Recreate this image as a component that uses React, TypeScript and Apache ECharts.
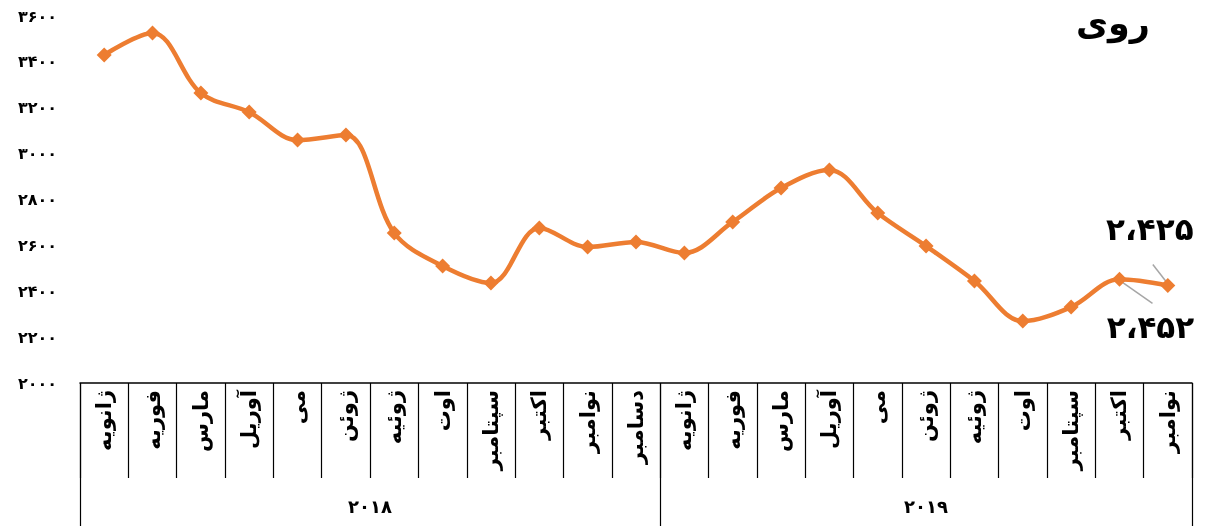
import React, { useEffect, useRef } from "react";
import * as echarts from "echarts";

const months2018 = ["ژانویه", "فوریه", "مارس", "آوریل", "می", "ژوئن", "ژوئیه", "اوت", "سپتامبر", "اکتبر", "نوامبر", "دسامبر"];
const months2019 = ["ژانویه", "فوریه", "مارس", "آوریل", "می", "ژوئن", "ژوئیه", "اوت", "سپتامبر", "اکتبر", "نوامبر"];
const years = [2018, 2019];
const values2018 = [3430, 3526, 3264, 3181, 3059, 3081, 2654, 2510, 2436, 2676, 2593, 2615];
const values2019 = [2567, 2702, 2850, 2929, 2741, 2597, 2445, 2270, 2331, 2452, 2425];
const yTicks = [2000, 2200, 2400, 2600, 2800, 3000, 3200, 3400, 3600];
const title = "روی";

const FA = "۰۱۲۳۴۵۶۷۸۹";
const toFa = (s: string) => s.replace(/\d/g, (d) => FA[Number(d)]);
const faNum = (n: number) => toFa(String(n));
const faThousands = (n: number) => toFa(String(n).replace(/\B(?=(\d{3})+(?!\d))/g, "،"));

const FONT = "DejaVu Sans";
const GUIDE = { stroke: "#A6A6A6", lineWidth: 1.5 };

export default function App() {
  const ref = useRef<HTMLDivElement>(null);
  useEffect(() => {
    if (!ref.current) return;
    const chart = echarts.init(ref.current, undefined, { renderer: "svg" });
    const categories = [...months2018, ...months2019];
    const values = [...values2018, ...values2019];
    const spans = [months2018.length, months2019.length];
    const bounds: number[] = [0];
    spans.forEach((s) => bounds.push(bounds[bounds.length - 1] + s));
    const mids = spans.map((s, i) => bounds[i] + s / 2);
    const n = values.length;

    const data = values.map((v, i) => {
      if (i === n - 2) {
        return { value: v, label: { show: true, position: "bottom", offset: [31, 20] } };
      }
      if (i === n - 1) {
        return { value: v, label: { show: true, position: "top", offset: [-18, -29] } };
      }
      return v;
    });

    chart.setOption({
      animation: false,
      title: {
        text: title,
        right: 57,
        top: 0,
        textStyle: { fontFamily: FONT, fontSize: 35, fontWeight: "bold", color: "#000" },
      },
      grid: { left: 80, right: 20, top: 16, bottom: 143, containLabel: false, outerBoundsMode: "none" },
      xAxis: [
        {
          type: "category",
          data: categories,
          position: "bottom",
          boundaryGap: true,
          axisLine: { show: true, onZero: false, lineStyle: { color: "#000", width: 1.5 } },
          axisTick: { show: true, interval: 0, length: 95, lineStyle: { color: "#000", width: 1.2 } },
          axisLabel: {
            interval: 0,
            rotate: 90,
            margin: 7,
            fontFamily: FONT,
            fontSize: 21,
            fontWeight: "bold",
            color: "#000",
          },
          splitLine: { show: false },
        },
        {
          type: "value",
          min: 0,
          max: bounds[bounds.length - 1],
          position: "bottom",
          offset: 0,
          axisLine: { show: false },
          axisTick: { show: true, customValues: bounds, length: 143, lineStyle: { color: "#000", width: 1.2 } },
          axisLabel: {
            show: true,
            customValues: mids,
            margin: 114,
            fontFamily: FONT,
            fontSize: 18,
            fontWeight: "bold",
            color: "#000",
            formatter: (v: number) => {
              const idx = mids.findIndex((m) => Math.abs(m - v) < 1e-6);
              return idx >= 0 ? faNum(years[idx]) : "";
            },
          },
          splitLine: { show: false },
        },
      ],
      yAxis: {
        type: "value",
        min: yTicks[0],
        max: yTicks[yTicks.length - 1],
        interval: yTicks[1] - yTicks[0],
        axisLine: { show: false },
        axisTick: { show: false },
        splitLine: { show: false },
        axisLabel: {
          margin: 23,
          fontFamily: FONT,
          fontSize: 16,
          fontWeight: "bold",
          color: "#000",
          formatter: (v: number) => faNum(v),
        },
      },
      series: [
        {
          type: "line",
          xAxisIndex: 0,
          data,
          smooth: 0.35,
          symbol: "diamond",
          symbolSize: 15,
          itemStyle: { color: "#ED7D31" },
          lineStyle: { color: "#ED7D31", width: 4.5 },
          label: {
            show: false,
            fontFamily: FONT,
            fontSize: 31,
            fontWeight: "bold",
            color: "#000",
            formatter: (p: any) => faThousands(p.value),
          },
        },
      ],
    });

    const finder = { xAxisIndex: 0, yAxisIndex: 0 };
    const pOct = chart.convertToPixel(finder, [n - 2, values[n - 2]]) as number[];
    const pNov = chart.convertToPixel(finder, [n - 1, values[n - 1]]) as number[];
    chart.setOption({
      graphic: [
        {
          type: "line",
          z: 1,
          shape: { x1: pOct[0] + 3, y1: pOct[1] + 3, x2: pOct[0] + 33, y2: pOct[1] + 24 },
          style: GUIDE,
        },
        {
          type: "line",
          z: 1,
          shape: { x1: pNov[0] - 15, y1: pNov[1] - 21, x2: pNov[0] - 1, y2: pNov[1] - 3 },
          style: GUIDE,
        },
      ],
    });
    return () => chart.dispose();
  }, []);
  return <div ref={ref} style={{ position: "fixed", left: 0, top: 0, width: 1212, height: 526 }} />;
}
